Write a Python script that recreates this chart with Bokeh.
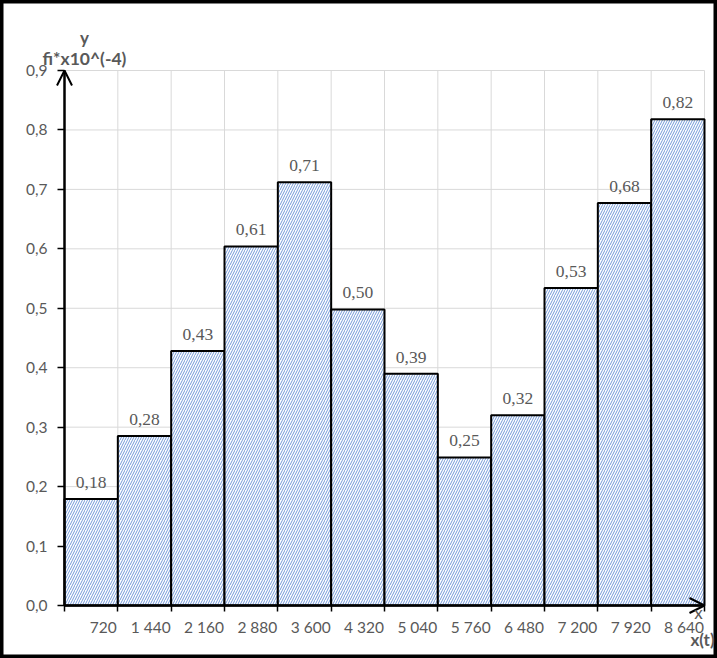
from bokeh.plotting import figure
from bokeh.models import (Range1d, FixedTicker, CustomJSTickFormatter, Arrow, OpenHead,
                          Label, LabelSet, ColumnDataSource)
from bokeh.embed import file_html
from bokeh.resources import INLINE

edges = [0, 720, 1440, 2160, 2880, 3600, 4320, 5040, 5760, 6480, 7200, 7920, 8640]
values = [0.179, 0.285, 0.428, 0.604, 0.712, 0.498, 0.390, 0.249, 0.320, 0.534, 0.677, 0.818]
value_labels = ["0,18", "0,28", "0,43", "0,61", "0,71", "0,50", "0,39", "0,25", "0,32",
                "0,53", "0,68", "0,82"]
x_tick_labels = ["720", "1 440", "2 160", "2 880", "3 600", "4 320", "5 040", "5 760",
                 "6 480", "7 200", "7 920", "8 640"]
y_ticks = [0.0, 0.1, 0.2, 0.3, 0.4, 0.5, 0.6, 0.7, 0.8, 0.9]
Y_MAX = 0.9

FONT = "Lato"
GRAY = "#595959"
TICK_FS = 15.5
W, H = 717, 658
# plot-area margins inside the canvas (pixels)
ML, MR, MT, MB = 64, 13, 70, 53

dx = (edges[-1] - edges[0]) / (W - ML - MR)   # data units per pixel
dy = Y_MAX / (H - MT - MB)

p = figure(width=W, height=H, output_backend="svg", toolbar_location=None,
           x_range=Range1d(edges[0] - ML * dx, edges[-1] + MR * dx),
           y_range=Range1d(-MB * dy, Y_MAX + MT * dy),
           min_border_left=0, min_border_right=0, min_border_top=0, min_border_bottom=0)
p.outline_line_color = "black"
p.outline_line_width = 6
p.xgrid.visible = False
p.ygrid.visible = False

# gridlines limited to the plot area
p.segment(x0=edges[1:], y0=0, x1=edges[1:], y1=Y_MAX, line_color="#D9D9D9", line_width=1,
          level="underlay")
p.segment(x0=edges[0], y0=y_ticks[1:], x1=edges[-1], y1=y_ticks[1:], line_color="#D9D9D9",
          line_width=1, level="underlay")

# y axis
ya = p.yaxis[0]
ya.fixed_location = 0
ya.bounds = (0, Y_MAX)
ya.ticker = FixedTicker(ticks=y_ticks)
ya.formatter = CustomJSTickFormatter(code="return tick.toFixed(1).replace('.', ',');")
ya.major_tick_in = 0
ya.major_tick_out = 7
ya.minor_tick_line_color = None
ya.axis_line_color = "black"
ya.axis_line_width = 2
ya.major_tick_line_color = "black"
ya.major_tick_line_width = 1.5
ya.major_label_text_font = FONT
ya.major_label_text_font_size = f"{TICK_FS}px"
ya.major_label_text_color = GRAY
ya.major_label_standoff = 10

# x axis: labels right-aligned to the right edge of each bin
def text_w(s):
    w = 0.0
    for ch in s:
        w += 0.193 if ch == " " else 0.58
    return w * TICK_FS

label_pos = [e - (text_w(s) / 2 + 1) * dx for e, s in zip(edges[1:], x_tick_labels)]
xa = p.xaxis[0]
xa.fixed_location = 0
xa.bounds = (edges[0], edges[-1])
xa.ticker = FixedTicker(ticks=label_pos, minor_ticks=edges)
xa.formatter = CustomJSTickFormatter(args=dict(labels=x_tick_labels),
                                     code="return labels[index];")
xa.major_tick_line_color = None
xa.minor_tick_in = 0
xa.minor_tick_out = 6
xa.minor_tick_line_color = "black"
xa.minor_tick_line_width = 1.5
xa.axis_line_color = "black"
xa.axis_line_width = 2
xa.major_label_text_font = FONT
xa.major_label_text_font_size = f"{TICK_FS}px"
xa.major_label_text_color = GRAY
xa.major_label_standoff = 6

# bars
src = ColumnDataSource(dict(left=edges[:-1], right=edges[1:], top=values,
                            xc=[(a + b) / 2 for a, b in zip(edges[:-1], edges[1:])],
                            lab=value_labels))
p.quad(left="left", right="right", bottom=0, top="top", source=src,
       fill_color="white", line_color="black", line_width=2,
       hatch_pattern="/", hatch_color="#3A6FC9", hatch_scale=5, hatch_weight=0.9,
       hatch_alpha=0.8)

p.add_layout(LabelSet(x="xc", y="top", text="lab", source=src, y_offset=11,
                      text_align="center", text_baseline="bottom",
                      text_font=FONT, text_font_size="17.5px", text_color=GRAY))

# axis arrows
p.add_layout(Arrow(end=OpenHead(size=15, line_color="black", line_width=2),
                   x_start=0, y_start=0, x_end=0, y_end=Y_MAX,
                   line_color="black", line_width=2))
p.add_layout(Arrow(end=OpenHead(size=15, line_color="black", line_width=2),
                   x_start=0, y_start=0, x_end=edges[-1], y_end=0,
                   line_color="black", line_width=2))

# axis titles
p.add_layout(Label(x=(84 - ML) * dx, y=Y_MAX + (MT - 37) * dy, text="y",
                   text_align="center", text_baseline="middle",
                   text_font=FONT, text_font_size="17px", text_font_style="bold",
                   text_color=GRAY))
p.add_layout(Label(x=(84 - ML) * dx, y=Y_MAX + (MT - 58) * dy,
                   text="fi*x10^(-4)", text_align="center",
                   text_baseline="middle", text_font=FONT, text_font_size="17.5px",
                   text_font_style="bold", text_color=GRAY))
p.add_layout(Label(x=(698 - ML) * dx, y=-(612 - (H - MB)) * dy, text="x",
                   text_align="center", text_baseline="middle",
                   text_font=FONT, text_font_size="17px", text_color=GRAY))
p.add_layout(Label(x=(702 - ML) * dx, y=-(639 - (H - MB)) * dy, text="x(t)",
                   text_align="center", text_baseline="middle", text_font=FONT,
                   text_font_size="17px", text_font_style="bold", text_color=GRAY))

open("out.html", "w").write(file_html(p, INLINE))
